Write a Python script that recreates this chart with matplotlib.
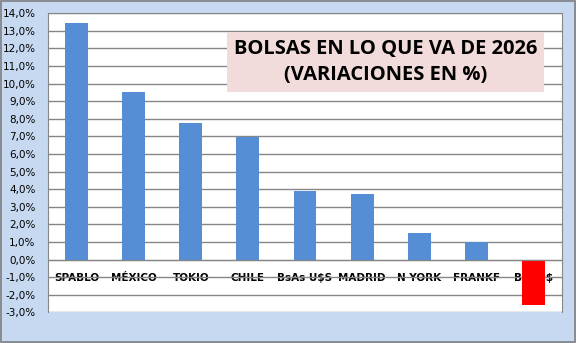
import matplotlib.pyplot as plt
from matplotlib.patches import Rectangle

categories = ["SPABLO", "MÉXICO", "TOKIO", "CHILE", "BsAs U$S", "MADRID", "N YORK", "FRANKF", "BsAs $"]
values = [13.45, 9.52, 7.76, 6.97, 3.87, 3.70, 1.52, 0.97, -2.57]
colors = ["#558ED5"] * 8 + ["#FF0000"]
yticks = list(range(-3, 15))

fig = plt.figure(figsize=(5.76, 3.43), dpi=100)
fig.patch.set_facecolor("#C6D9F1")
fig.patches.append(Rectangle((0.0015, 0.003), 0.997, 0.994, transform=fig.transFigure,
                             fill=False, edgecolor="#7F7F7F", lw=1.2))

ax = fig.add_axes([48 / 576, 1 - 312.3 / 343, (562 - 48) / 576, (312.3 - 13.3) / 343])
ax.set_facecolor("white")
x = range(len(categories))
ax.bar(x, values, width=0.40, color=colors, zorder=3)

ax.set_xlim(-0.5, len(categories) - 0.5)
ax.set_ylim(-3, 14)
ax.set_yticks(yticks)
ax.set_yticklabels([f"{v},0%" for v in yticks], fontsize=7.5, family="DejaVu Sans")
ax.yaxis.grid(True, color="#868686", lw=1, zorder=0)
ax.tick_params(axis="y", length=0, pad=9)

ax.spines["bottom"].set_position(("data", 0))
ax.spines["bottom"].set_color("#868686")
ax.spines["bottom"].set_zorder(4)
for s in ["left", "top", "right"]:
    ax.spines[s].set_color("#868686")
ax.set_xticks(list(x))
ax.set_xticklabels(categories, fontsize=7.5, fontweight="bold", family="DejaVu Sans")
ax.tick_params(axis="x", length=0, pad=10)
for lbl in ax.get_xticklabels():
    lbl.set_zorder(5)

ax.text(0.657, 0.838, "BOLSAS EN LO QUE VA DE 2026\n(VARIACIONES EN %)", transform=ax.transAxes,
        ha="center", va="center", fontsize=14.5, fontweight="bold", family="Open Sans",
        linespacing=1.4, zorder=6,
        bbox=dict(boxstyle="square,pad=0.35", facecolor="#F2DCDB", edgecolor="none"))

fig.savefig("out.png", dpi=100, facecolor=fig.get_facecolor())
